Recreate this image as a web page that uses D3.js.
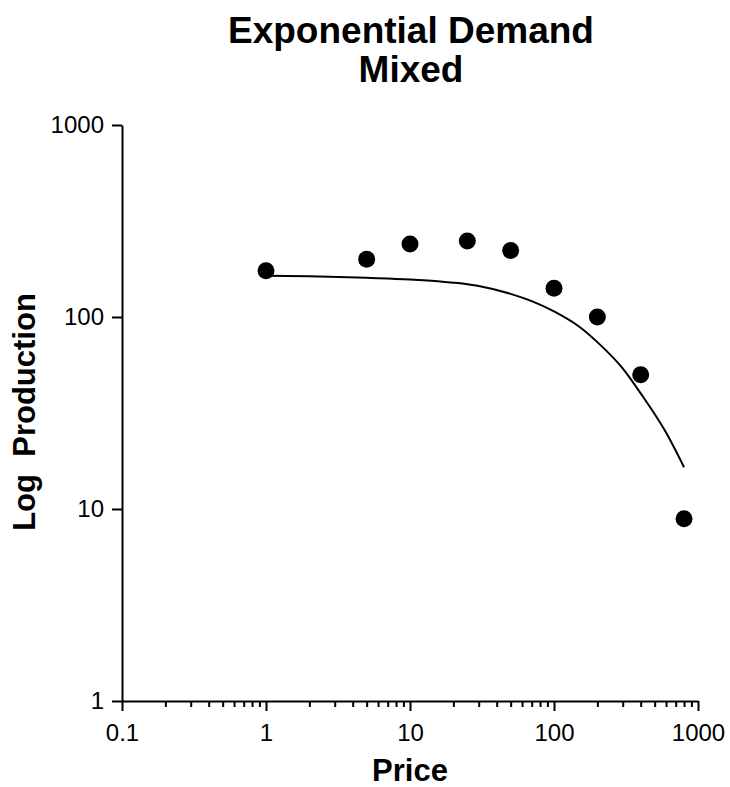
<!DOCTYPE html>
<html><head><meta charset="utf-8">
<script src="https://cdn.jsdelivr.net/npm/d3@7"></script>
<style>body{margin:0;background:#fff;} svg{display:block;font-family:"Liberation Sans",Arial,sans-serif;}</style>
</head><body>
<script>
const title = ["Exponential Demand", "Mixed"];
const xLabel = "Price";
const yLabel = "Log  Production";
const price = [1, 5, 10, 25, 50, 100, 200, 400, 800];
const production = [174, 200, 240, 249, 222, 141, 100, 50, 8.9];
const curvePrice = [1, 2, 5, 10, 20, 30, 50, 70, 100, 150, 200, 300, 400, 600, 800];
const curveProduction = [164, 163, 160, 157, 151, 145, 132, 121, 107, 89, 74, 54, 40, 25, 16.5];
const xTicks = [0.1, 1, 10, 100, 1000];
const xTickLabels = ["0.1", "1", "10", "100", "1000"];
const yTicks = [1, 10, 100, 1000];
const yTickLabels = ["1", "10", "100", "1000"];

const W = 730, H = 787;
const FONT = "Liberation Sans, Arial, sans-serif";
const svg = d3.select("body").append("svg").attr("width", W).attr("height", H);
const x = d3.scaleLog().domain([0.1, 1000]).range([122, 698]);
const y = d3.scaleLog().domain([1, 1000]).range([701, 125]);

// minor ticks for x
const xMinor = [];
for (let d = 0.1; d < 1000; d *= 10) for (let k = 2; k <= 9; k++) xMinor.push(+(d * k).toPrecision(3));

const gx = svg.append("g").attr("transform", "translate(0,701)");
gx.call(d3.axisBottom(x).tickValues(xMinor).tickSize(6).tickFormat(""))
  .call(g => g.select(".domain").remove());
gx.append("g").call(d3.axisBottom(x).tickValues(xTicks).tickSize(10).tickSizeOuter(0)
  .tickFormat((d, i) => xTickLabels[i]))
  .call(g => g.selectAll("text").attr("font-size", 24).attr("fill", "#000")
    .attr("font-family", FONT).attr("y", 40).attr("dy", null));
gx.selectAll("line").attr("stroke", "#000").attr("stroke-width", 2);
gx.selectAll(".domain").attr("stroke", "#000").attr("stroke-width", 2);

const gy = svg.append("g").attr("transform", "translate(122,0)");
gy.call(d3.axisLeft(y).tickValues(yTicks).tickSize(10).tickSizeOuter(0)
  .tickFormat((d, i) => yTickLabels[i]))
  .call(g => g.selectAll("text").attr("font-size", 24).attr("fill", "#000")
    .attr("font-family", FONT).attr("x", -18));
gy.selectAll("line").attr("stroke", "#000").attr("stroke-width", 2);
gy.selectAll(".domain").attr("stroke", "#000").attr("stroke-width", 2);

// curve
const line = d3.line().x(d => x(d[0])).y(d => y(d[1])).curve(d3.curveMonotoneX);
svg.append("path").datum(curvePrice.map((p, i) => [p, curveProduction[i]]))
  .attr("d", line).attr("fill", "none").attr("stroke", "#000").attr("stroke-width", 2);

// points
svg.append("g").selectAll("circle").data(price.map((p, i) => [p, production[i]]))
  .join("circle").attr("cx", d => x(d[0])).attr("cy", d => y(d[1])).attr("r", 8.5).attr("fill", "#000");

// titles
svg.append("text").attr("x", 411).attr("y", 43).attr("text-anchor", "middle")
  .attr("font-size", 37).attr("font-weight", "bold").text(title[0]);
svg.append("text").attr("x", 411).attr("y", 82).attr("text-anchor", "middle")
  .attr("font-size", 37).attr("font-weight", "bold").text(title[1]);
svg.append("text").attr("x", 410).attr("y", 781).attr("text-anchor", "middle")
  .attr("font-size", 31).attr("font-weight", "bold").text(xLabel);
svg.append("text").attr("transform", "translate(35,412) rotate(-90)").attr("text-anchor", "middle")
  .attr("font-size", 31).attr("font-weight", "bold").style("white-space", "pre").text(yLabel);
</script>
</body></html>
